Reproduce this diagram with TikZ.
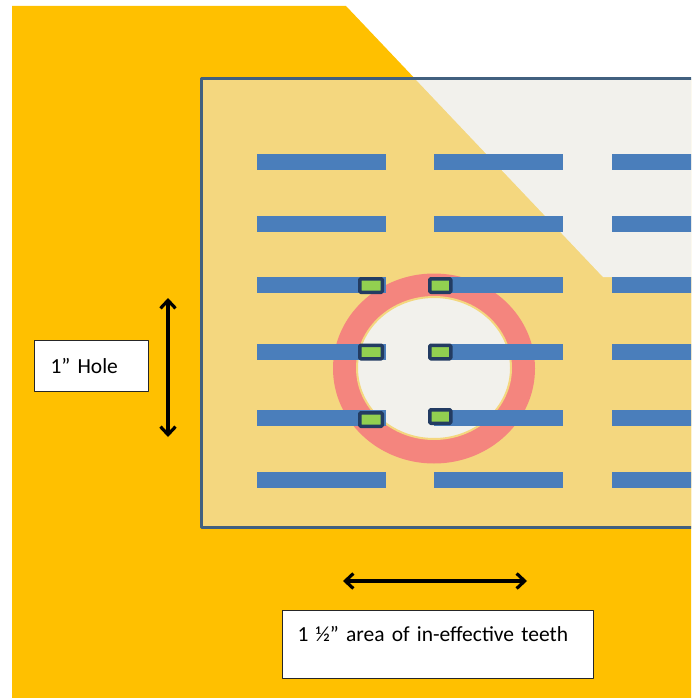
\documentclass[tikz,border=0pt]{standalone}
\usepackage{fontspec}
\setmainfont{Carlito}
\usetikzlibrary{arrows.meta}
\definecolor{bgorange}{HTML}{FFC000}
\definecolor{platetan}{HTML}{F4D77F}
\definecolor{platelight}{HTML}{F2F1EC}
\definecolor{plateedge}{HTML}{41607F}
\definecolor{toothblue}{HTML}{4A7EBB}
\definecolor{ringred}{HTML}{F4857E}
\definecolor{padgreen}{HTML}{92D050}
\definecolor{padedge}{HTML}{233C62}
\begin{document}
\begin{tikzpicture}[x=1pt, y=-1pt, line join=round, >={Straight Barb[length=8pt,width=15pt]},
	tooth/.style={fill=toothblue},
	pad/.style={draw=padedge, line width=3.5pt, fill=padgreen, rounded corners=1pt},
	labelbox/.style={draw=black!85, line width=1pt, fill=white, align=left, font=\fontsize{21.5}{26}\selectfont},
	dimarrow/.style={<->, line width=3.2pt}]
	\def\pl{201.5} \def\pt{79} \def\pb{527.5} % plate
	\useasboundingbox (0,0) rectangle (691,698);
	\clip (0,0) rectangle (691,698);
	\fill[white] (0,0) rectangle (691,698);
	\fill[bgorange] (12,6) -- (346,6) -- (603,277) -- (691,277) -- (691,698) -- (12,698) -- cycle;
	\fill[platetan] (\pl,\pt) rectangle (700,\pb);
	\begin{scope}
		\clip (\pl,\pt) rectangle (700,\pb);
		\fill[platelight] (346,6) -- (700,6) -- (700,277) -- (603,277) -- cycle;
	\end{scope}
	\draw[plateedge, line width=3pt] (\pl,\pt) rectangle (700,\pb);
	% hole
	\fill[ringred] (434,368.5) ellipse [x radius=101pt, y radius=95pt];
	\filldraw[fill=platelight, draw=platetan, line width=2pt] (434,368) ellipse [x radius=77pt, y radius=71pt];
	% teeth
	\foreach \y in {154,216,277,344,410,472}
	\foreach \x in {257,434,612}
	\fill[tooth] (\x,\y) rectangle ++(129,16);
	\foreach \y/\yy in {277/277,343.5/343.5,411/408}{
		\draw[pad] (359.75,\y+1.75) rectangle (382.25,\y+15.25);
		\draw[pad] (429.75,\yy+1.75) rectangle (450.75,\yy+15.25);
	}
	\coordinate (holetop) at (168,298);
	\coordinate (holebot) at (168,437);
	\coordinate (areal) at (343,581);
	\coordinate (arear) at (527,581);
	\draw[dimarrow] (holetop) -- (holebot);
	\draw[dimarrow] (areal) -- (arear);
	\node[labelbox, anchor=north west, minimum height=51pt, text width=82pt, inner xsep=16pt] (holelabel) at (34,340) {1” Hole};
	\node[labelbox, anchor=north west, text width=281pt, inner xsep=15pt, inner ysep=0pt, text height=31pt, text depth=37pt] (arealabel) at (282,610) {1 ½” area of in-effective teeth};
\end{tikzpicture}
\end{document}
